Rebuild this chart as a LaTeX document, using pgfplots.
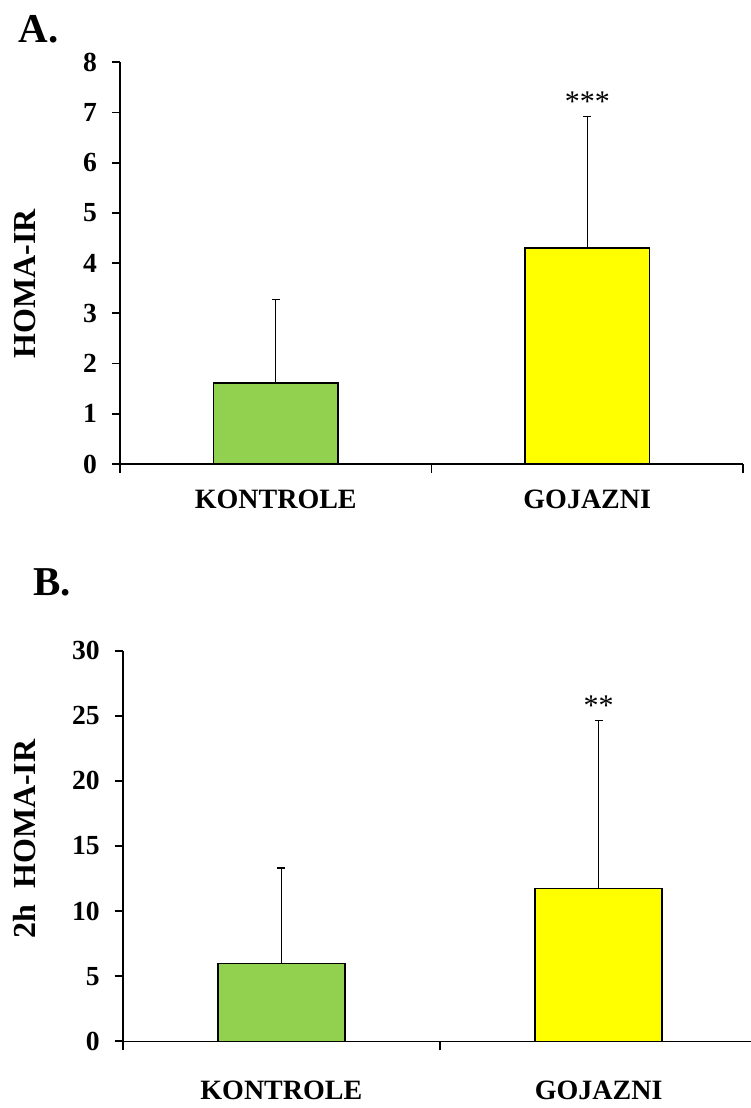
\documentclass[border=0pt]{standalone}
\usepackage{fontspec}
\setmainfont{Liberation Serif}
\usepackage{pgfplots}
\pgfplotsset{compat=1.18}

\definecolor{barGreen}{HTML}{92D050}
\definecolor{barYellow}{HTML}{FFFF00}

\pgfplotsset{
  panel/.style={
    scale only axis,
    axis x line=bottom,
    axis y line=left,
    axis line style={-, line width=0.8pt, black},
    xmin=0.5, xmax=2.5,
    ymin=0,
    xtick={1,2},
    xticklabels={KONTROLE,GOJAZNI},
    minor xtick={0.5,1.5,2.5},
    tick align=outside,
    major tick length=4pt,
    minor tick length=4.5pt,
    tick style={black, line width=0.9pt},
    major x tick style={draw=none},
    /pgf/number format/assume math mode=true,
    yticklabel style={font=\fontsize{13.8}{16}\selectfont\bfseries, xshift=-4pt},
    xticklabel style={font=\fontsize{14}{16}\selectfont\bfseries, anchor=north, inner sep=0pt},
    ylabel style={font=\fontsize{16}{18}\selectfont\bfseries, anchor=center},
    ybar,
    bar width=0.4,
    clip=false,
  },
  valbar/.style={
    draw=black, line width=0.75pt, bar shift=0pt,
    error bars/.cd,
      y dir=plus, y explicit,
      error bar style={line width=0.65pt, black},
      error mark options={rotate=90, mark size=2pt, line width=0.65pt, black},
  },
}

\begin{document}
\begin{tikzpicture}
\useasboundingbox (0,0) rectangle (375pt,554pt);

% Panel A: HOMA-IR
\node[anchor=base west, font=\fontsize{20.5}{24}\selectfont\bfseries, inner sep=0pt] at (9pt,532.5pt) {A.};
\begin{axis}[panel,
  at={(60pt,322pt)}, anchor=south west,
  width=311.5pt, height=200.85pt,
  ymax=8, ytick={0,1,...,8},
  xticklabel style={yshift=-9pt},
  ylabel={HOMA-IR},
  ylabel style={at={(axis description cs:-0.1525,0.449)}},
]
\addplot[fill=barGreen, valbar] coordinates {(1,1.61) +- (0,1.66)};
\addplot[fill=barYellow, valbar] coordinates {(2,4.30) +- (0,2.62)};
\node[anchor=base, yshift=2.5pt, font=\fontsize{15}{18}\selectfont] at (axis cs:2,6.92) {***};
\end{axis}

% Panel B: 2h HOMA-IR
\node[anchor=base west, font=\fontsize{20.5}{24}\selectfont\bfseries, inner sep=0pt] at (16.5pt,256pt) {B.};
\begin{axis}[panel,
  at={(61.35pt,33.35pt)}, anchor=south west,
  width=317.3pt, height=195.3pt,
  ymax=30, ytick={0,5,...,30},
  xticklabel style={yshift=-15.5pt},
  ylabel={2h\ \ HOMA-IR},
  ylabel style={at={(axis description cs:-0.154,0.518)}},
]
\addplot[fill=barGreen, valbar] coordinates {(1,5.99) +- (0,7.32)};
\addplot[fill=barYellow, valbar] coordinates {(2,11.72) +- (0,12.93)};
\node[anchor=base, yshift=2.5pt, font=\fontsize{15}{18}\selectfont] at (axis cs:2,24.65) {**};
\end{axis}
\end{tikzpicture}
\end{document}
